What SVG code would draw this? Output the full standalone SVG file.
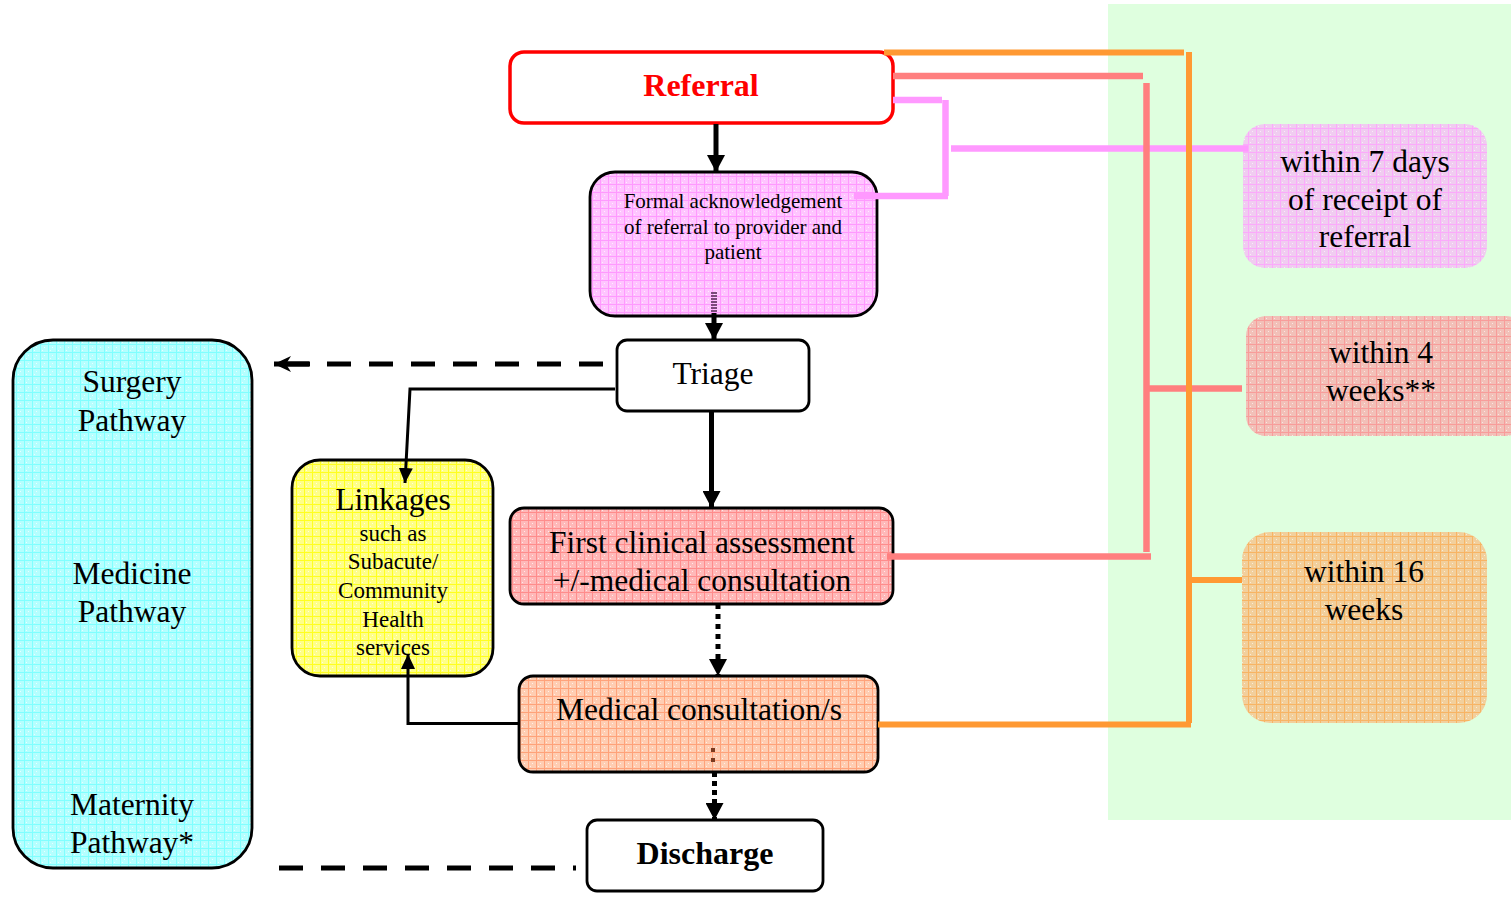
<svg xmlns="http://www.w3.org/2000/svg" width="1511" height="898" viewBox="0 0 1511 898">
<style>
  text { font-family: "Liberation Serif", "Times New Roman", serif; fill: #000; text-anchor: middle; }
  .t31 { font-size: 31.5px; }
  .t21 { font-size: 21px; }
  .t23 { font-size: 23px; }
  .bold { font-weight: bold; }
  .box { stroke: #000; stroke-width: 2.8; }
  .blk { fill: none; stroke: #000; }
  .col { fill: none; stroke-linecap: butt; }
</style>
<defs>
  <pattern id="pPink" width="8" height="8" patternUnits="userSpaceOnUse">
    <rect width="8" height="8" fill="#FFC4FF"/>
    <path d="M0 0.5H8M0.5 0V8" stroke="#FF99FF" stroke-width="1"/>
    <rect x="4" y="3" width="1" height="1" fill="#fff" opacity="0.7"/>
    <rect x="2" y="6" width="1" height="1" fill="#fff" opacity="0.7"/>
  </pattern>
  <pattern id="pCyan" width="8" height="8" patternUnits="userSpaceOnUse">
    <rect width="8" height="8" fill="#B4FFFF"/>
    <path d="M0 0.5H8M0.5 0V8" stroke="#80FFFF" stroke-width="1"/>
    <rect x="4" y="3" width="1" height="1" fill="#fff" opacity="0.7"/>
    <rect x="2" y="6" width="1" height="1" fill="#fff" opacity="0.7"/>
  </pattern>
  <pattern id="pYellow" width="8" height="8" patternUnits="userSpaceOnUse">
    <rect width="8" height="8" fill="#FFFF88"/>
    <path d="M0 0.5H8M0.5 0V8" stroke="#FFFF20" stroke-width="1"/>
    <rect x="4" y="3" width="1" height="1" fill="#fff" opacity="0.7"/>
    <rect x="2" y="6" width="1" height="1" fill="#fff" opacity="0.7"/>
  </pattern>
  <pattern id="pRed" width="8" height="8" patternUnits="userSpaceOnUse">
    <rect width="8" height="8" fill="#FFB8B8"/>
    <path d="M0 0.5H8M0.5 0V8" stroke="#FF8C8C" stroke-width="1"/>
    <rect x="4" y="3" width="1" height="1" fill="#fff" opacity="0.7"/>
    <rect x="2" y="6" width="1" height="1" fill="#fff" opacity="0.7"/>
  </pattern>
  <pattern id="pPeach" width="8" height="8" patternUnits="userSpaceOnUse">
    <rect width="8" height="8" fill="#FFCDB2"/>
    <path d="M0 0.5H8M0.5 0V8" stroke="#FFA27A" stroke-width="1"/>
    <rect x="4" y="3" width="1" height="1" fill="#fff" opacity="0.7"/>
    <rect x="2" y="6" width="1" height="1" fill="#fff" opacity="0.7"/>
  </pattern>
  <pattern id="pMauve" width="8" height="8" patternUnits="userSpaceOnUse">
    <rect width="8" height="8" fill="#F0CCF0"/>
    <path d="M0 0.5H8M0.5 0V8" stroke="#FBAAFB" stroke-width="1"/>
    <rect x="4" y="3" width="1" height="1" fill="#fff" opacity="0.6"/>
    <rect x="2" y="6" width="1" height="1" fill="#fff" opacity="0.6"/>
  </pattern>
  <pattern id="pSalmon" width="8" height="8" patternUnits="userSpaceOnUse">
    <rect width="8" height="8" fill="#F2C0B8"/>
    <path d="M0 0.5H8M0.5 0V8" stroke="#F89C9A" stroke-width="1"/>
    <rect x="4" y="3" width="1" height="1" fill="#fff" opacity="0.6"/>
    <rect x="2" y="6" width="1" height="1" fill="#fff" opacity="0.6"/>
  </pattern>
  <pattern id="pOrange" width="8" height="8" patternUnits="userSpaceOnUse">
    <rect width="8" height="8" fill="#F2CF9C"/>
    <path d="M0 0.5H8M0.5 0V8" stroke="#F8B464" stroke-width="1"/>
    <rect x="4" y="3" width="1" height="1" fill="#fff" opacity="0.6"/>
    <rect x="2" y="6" width="1" height="1" fill="#fff" opacity="0.6"/>
  </pattern>
  <marker id="aBig" viewBox="0 0 17 18" refX="17" refY="9" markerWidth="17" markerHeight="18" markerUnits="userSpaceOnUse" orient="auto">
    <path d="M0 0L17 9L0 18Z" fill="#000"/>
  </marker>
  <marker id="aSmall" viewBox="0 0 15 14" refX="15" refY="7" markerWidth="15" markerHeight="14" markerUnits="userSpaceOnUse" orient="auto">
    <path d="M0 0L15 7L0 14Z" fill="#000"/>
  </marker>
  <marker id="aOpen" viewBox="0 0 18 18" refX="17" refY="9" markerWidth="18" markerHeight="18" markerUnits="userSpaceOnUse" orient="auto">
    <path d="M0 1L17 9L0 17L5 9Z" fill="#000"/>
  </marker>
</defs>

<rect id="timeline-bg" x="1108" y="4" width="403" height="816" fill="#DFFFDF"/>

<g id="node-referral">
  <rect x="510" y="52" width="383" height="71" rx="14" fill="#fff" stroke="#FF0000" stroke-width="3.5"/>
  <text x="701" y="96" class="bold" style="font-size:32px;fill:#FF0000">Referral</text>
</g>
<g id="node-acknowledgement">
  <rect x="590" y="172" width="287" height="144" rx="25" fill="url(#pPink)" class="box"/>
  <text x="733" y="208" class="t21">Formal acknowledgement</text>
  <text x="733" y="234" class="t21">of referral to provider and</text>
  <text x="733" y="259" class="t21">patient</text>
</g>
<g id="node-triage">
  <rect x="617" y="340" width="192" height="71" rx="10" fill="#fff" class="box"/>
  <text x="713" y="384" class="t31">Triage</text>
</g>
<g id="node-pathways">
  <rect x="13" y="340" width="239" height="528" rx="40" fill="url(#pCyan)" class="box"/>
  <text x="132" y="392" class="t31">Surgery</text>
  <text x="132" y="431" class="t31">Pathway</text>
  <text x="132" y="584" class="t31">Medicine</text>
  <text x="132" y="622" class="t31">Pathway</text>
  <text x="132" y="815" class="t31">Maternity</text>
  <text x="132" y="853" class="t31">Pathway*</text>
</g>
<g id="node-linkages">
  <rect x="292" y="460" width="201" height="216" rx="28" fill="url(#pYellow)" class="box"/>
  <text x="393" y="510" class="t31">Linkages</text>
  <text x="393" y="541" class="t23">such as</text>
  <text x="393" y="569" class="t23">Subacute/</text>
  <text x="393" y="598" class="t23">Community</text>
  <text x="393" y="627" class="t23">Health</text>
  <text x="393" y="655" class="t23">services</text>
</g>
<g id="node-first-assessment">
  <rect x="510" y="508" width="383" height="96" rx="14" fill="url(#pRed)" class="box"/>
  <text x="702" y="553" class="t31">First clinical assessment</text>
  <text x="702" y="591" class="t31">+/-medical consultation</text>
</g>
<g id="node-medical">
  <rect x="519" y="676" width="359" height="96" rx="14" fill="url(#pPeach)" class="box"/>
  <text x="699" y="720" class="t31">Medical consultation/s</text>
</g>
<g id="node-discharge">
  <rect x="587" y="820" width="236" height="71" rx="10" fill="#fff" class="box"/>
  <text x="705" y="864" class="bold" style="font-size:32px">Discharge</text>
</g>
<g id="node-7days">
  <rect x="1243" y="124" width="244" height="144" rx="22" fill="url(#pMauve)"/>
  <text x="1365" y="172" class="t31">within 7 days</text>
  <text x="1365" y="210" class="t31">of receipt of</text>
  <text x="1365" y="247" class="t31">referral</text>
</g>
<g id="node-4weeks">
  <rect x="1246" y="316" width="280" height="120" rx="20" fill="url(#pSalmon)"/>
  <text x="1381" y="363" class="t31">within 4</text>
  <text x="1381" y="401" class="t31">weeks**</text>
</g>
<g id="node-16weeks">
  <rect x="1242" y="532" width="245" height="191" rx="28" fill="url(#pOrange)"/>
  <text x="1364" y="582" class="t31">within 16</text>
  <text x="1364" y="620" class="t31">weeks</text>
</g>

<g id="connectors">
  <!-- pink timeline -->
  <g class="col" stroke="#FF99FF" stroke-width="6.5">
    <path d="M893 100H942"/>
    <path d="M945.5 100V196"/>
    <path d="M854 196H948"/>
    <path d="M951 148.5H1248"/>
  </g>
  <!-- salmon timeline -->
  <g class="col" stroke="#FF7F7F" stroke-width="6.5">
    <path d="M893 76H1143"/>
    <path d="M1146.5 83V552"/>
    <path d="M887 556.5H1151"/>
    <path d="M1149 388.5H1242"/>
  </g>
  <!-- orange timeline -->
  <g class="col" stroke="#FF9933" stroke-width="6">
    <path d="M884 52.5H1184"/>
    <path d="M1189 52V723"/>
    <path d="M878 724.5H1191"/>
    <path d="M1192 580H1242"/>
  </g>

  <!-- main flow -->
  <path d="M716 124V172" class="blk" stroke-width="5" marker-end="url(#aBig)"/>
  <path d="M714 292V313" fill="none" stroke="#7A4A7A" stroke-width="6" stroke-dasharray="2 1"/>
  <path d="M714 313V340" class="blk" stroke-width="5" marker-end="url(#aBig)"/>
  <path d="M711.5 411V508" class="blk" stroke-width="5" marker-end="url(#aBig)"/>
  <path d="M718 604V676" class="blk" stroke-width="5" stroke-dasharray="5 5" marker-end="url(#aBig)"/>
  <rect x="711" y="748" width="4" height="4" fill="#7A3A20"/>
  <rect x="711" y="758" width="4" height="4" fill="#7A3A20"/>
  <path d="M714.5 772V820" class="blk" stroke-width="5" stroke-dasharray="5 4" marker-end="url(#aBig)"/>

  <!-- triage to pathways (dashed) -->
  <path d="M603 364H284" class="blk" stroke-width="5" stroke-dasharray="24 18"/>
  <path d="M310 364H274" class="blk" stroke-width="5" marker-end="url(#aOpen)"/>
  <!-- discharge to pathways (dashed) -->
  <path d="M279 868H576" class="blk" stroke-width="5" stroke-dasharray="24 18"/>

  <!-- triage to linkages -->
  <path d="M615 389H410L405 483" class="blk" stroke-width="3" marker-end="url(#aSmall)"/>
  <!-- medical to linkages -->
  <path d="M519 723.5H408V654" class="blk" stroke-width="3" marker-end="url(#aSmall)"/>
</g>
</svg>
